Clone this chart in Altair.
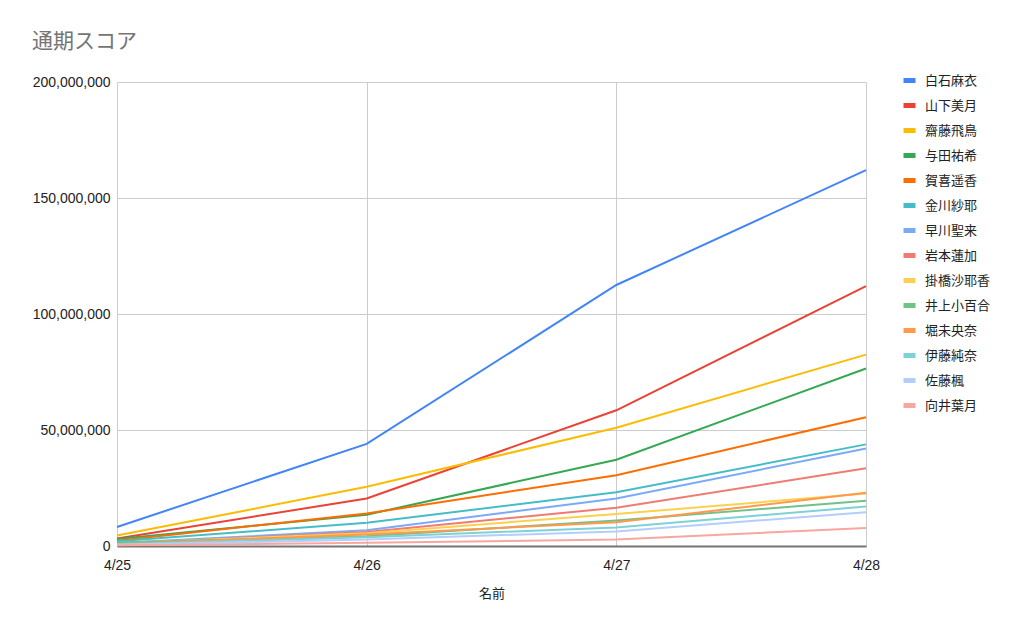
import altair as alt
import pandas as pd

# Dates on the x axis
dates = ["4/25", "4/26", "4/27", "4/28"]

# Members, in legend order, with their line colours
names = [
    "白石麻衣", "山下美月", "齋藤飛鳥", "与田祐希", "賀喜遥香", "金川紗耶", "早川聖来",
    "岩本蓮加", "掛橋沙耶香", "井上小百合", "堀未央奈", "伊藤純奈", "佐藤楓", "向井葉月",
]
colors = [
    "#4285F4", "#EA4335", "#FBBC04", "#34A853", "#FF6D01", "#46BDC6", "#7BAAF7",
    "#F07B72", "#FCD04F", "#71C287", "#FF994D", "#7ED1D7", "#B3CEFB", "#F7A7A0",
]

# Cumulative score per member (millions), one value per date
shiraishi = [8.2, 44.0, 112.5, 162.0]
yamashita = [3.2, 20.5, 58.5, 112.0]
saito = [4.5, 25.5, 51.0, 82.5]
yoda = [3.0, 13.5, 37.2, 76.5]
kaki = [2.3, 14.0, 30.5, 55.5]
kanagawa = [2.0, 10.0, 23.2, 43.8]
hayakawa = [1.3, 6.8, 20.5, 42.0]
iwamoto = [1.0, 6.0, 16.5, 33.5]
kakehashi = [1.2, 5.5, 13.8, 22.6]
inoue = [1.5, 4.2, 11.0, 19.5]
hori = [0.8, 5.0, 10.2, 23.0]
ito = [0.7, 3.8, 8.0, 17.0]
sato = [0.5, 2.8, 6.3, 14.6]
mukai = [0.3, 1.4, 2.8, 7.8]

series = [shiraishi, yamashita, saito, yoda, kaki, kanagawa, hayakawa,
          iwamoto, kakehashi, inoue, hori, ito, sato, mukai]

rows = []
for order, (name, vals) in enumerate(zip(names, series)):
    for d, v in zip(dates, vals):
        rows.append({"名前": d, "メンバー": name, "スコア": v * 1_000_000, "order": order})
df = pd.DataFrame(rows)

font = "Roboto, 'Noto Sans CJK JP', sans-serif"
num_font = "'Liberation Sans', Arial, sans-serif"

chart = (
    alt.Chart(df)
    .mark_line(strokeWidth=2)
    .encode(
        x=alt.X(
            "名前:O",
            sort=dates,
            scale=alt.Scale(type="point", padding=0),
            axis=alt.Axis(
                labelAngle=0,
                grid=True,
                gridColor="#cccccc",
                ticks=False,
                domain=True,
                domainColor="#757575",
                domainWidth=2,
                labelPadding=12,
                labelFont=num_font,
                labelFontSize=14,
                labelColor="#222222",
                titleFontSize=13,
                titleColor="#222222",
                titleFontWeight="normal",
                titlePadding=15,
            ),
        ),
        y=alt.Y(
            "スコア:Q",
            scale=alt.Scale(domain=[0, 200_000_000], nice=False),
            axis=alt.Axis(
                values=[0, 50_000_000, 100_000_000, 150_000_000, 200_000_000],
                format=",d",
                title=None,
                grid=True,
                gridColor="#cccccc",
                ticks=False,
                domain=False,
                labelPadding=7,
                labelFont=num_font,
                labelFontSize=14,
                labelColor="#222222",
            ),
        ),
        color=alt.Color(
            "メンバー:N",
            sort=names,
            scale=alt.Scale(domain=names, range=colors),
            legend=alt.Legend(
                title=None,
                orient="none",
                legendX=784,
                legendY=-10,
                symbolType="stroke",
                symbolSize=144,
                symbolStrokeWidth=5,
                labelFontSize=13,
                labelColor="#222222",
                labelOffset=7,
                rowPadding=4,
            ),
        ),
        order=alt.Order("order:Q", sort="descending"),
    )
    .properties(
        width=749,
        height=464,
        padding={"left": 117, "top": 82, "right": 158, "bottom": 87},
        autosize=alt.AutoSizeParams(type="none"),
        title=alt.TitleParams(
            "通期スコア",
            anchor="start",
            frame="group",
            dx=-85,
            offset=20,
            fontSize=21,
            fontWeight="normal",
            color="#757575",
        ),
    )
    .configure(font=font)
    .configure_view(stroke=None)
)

chart.save("out.html", embed_options={"renderer": "svg", "actions": False})
